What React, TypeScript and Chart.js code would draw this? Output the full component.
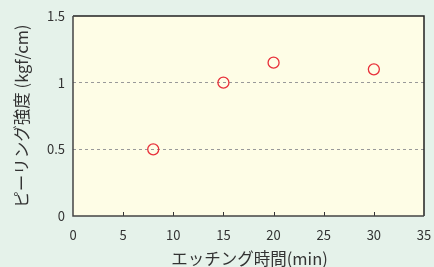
import React, { useEffect, useRef } from "react";
import { Chart, registerables } from "chart.js";

Chart.register(...registerables);

const etchTimes = [8, 15, 20, 30];
const peelStrength = [0.5, 1.0, 1.15, 1.1];
const xTicks = [0, 5, 10, 15, 20, 25, 30, 35];
const yTicks = [0, 0.5, 1, 1.5];
const xTitle = "エッチング時間(min)";
const yTitle = "ピーリング強度 (kgf/cm)";

const FONT = "'Noto Sans CJK JP', 'Noto Sans', sans-serif";

const framePlugin = {
  id: "frame",
  beforeDraw(chart: any) {
    const { ctx, chartArea } = chart;
    ctx.save();
    ctx.fillStyle = "#e5f2ea";
    ctx.fillRect(0, 0, chart.width, chart.height);
    ctx.fillStyle = "#fefde6";
    ctx.fillRect(chartArea.left, chartArea.top, chartArea.right - chartArea.left, chartArea.bottom - chartArea.top);
    ctx.restore();
  },
  afterDraw(chart: any) {
    const { ctx, chartArea } = chart;
    const { left, right, top, bottom } = chartArea;
    const xs = chart.scales.x;
    ctx.save();
    ctx.strokeStyle = "#333";
    ctx.lineWidth = 1;
    xTicks.forEach((v) => {
      if (v === xTicks[0] || v === xTicks[xTicks.length - 1]) return;
      const px = Math.round(xs.getPixelForValue(v)) + 0.5;
      ctx.beginPath();
      ctx.moveTo(px, bottom);
      ctx.lineTo(px, bottom - 4);
      ctx.stroke();
    });
    ctx.strokeStyle = "#222";
    ctx.lineWidth = 1.5;
    ctx.beginPath();
    ctx.moveTo(left, top);
    ctx.lineTo(right, top);
    ctx.lineTo(right, bottom);
    ctx.stroke();
    ctx.strokeStyle = "#444";
    ctx.beginPath();
    ctx.moveTo(left, top);
    ctx.lineTo(left, bottom);
    ctx.lineTo(right, bottom);
    ctx.stroke();
    ctx.fillStyle = "#333";
    ctx.font = `16.5px ${FONT}`;
    ctx.textAlign = "center";
    ctx.textBaseline = "middle";
    ctx.fillText(xTitle, (left + right) / 2 + 1, 259);
    ctx.translate(22, (top + bottom) / 2);
    ctx.rotate(-Math.PI / 2);
    ctx.fillText(yTitle, 0, 0);
    ctx.restore();
  },
};

export default function App() {
  const ref = useRef<HTMLCanvasElement | null>(null);
  useEffect(() => {
    document.body.style.margin = "0";
    const chart = new Chart(ref.current!, {
      type: "scatter",
      data: {
        datasets: [
          {
            data: etchTimes.map((x, i) => ({ x, y: peelStrength[i] })),
            pointStyle: "circle",
            pointRadius: 5.5,
            pointBorderColor: "#e8303a",
            pointBackgroundColor: "rgba(0,0,0,0)",
            pointBorderWidth: 1.3,
            showLine: false,
          },
        ],
      },
      options: {
        animation: false,
        responsive: false,
        layout: { padding: { top: 16, right: 10, left: 0, bottom: 0 } },
        plugins: { legend: { display: false }, tooltip: { enabled: false } },
        scales: {
          x: {
            type: "linear",
            min: 0,
            max: 35,
            afterBuildTicks: (s: any) => {
              s.ticks = xTicks.map((v) => ({ value: v }));
            },
            afterFit: (s: any) => {
              s.height = 51;
              s.paddingLeft = 0;
              s.paddingRight = 0;
            },
            grid: { display: false, drawTicks: false },
            border: { display: false },
            ticks: {
              color: "#333",
              font: { family: FONT, size: 13 },
              padding: 11,
              maxRotation: 0,
              callback: (v: any) => String(v),
            },
          },
          y: {
            type: "linear",
            min: 0,
            max: 1.5,
            afterBuildTicks: (s: any) => {
              s.ticks = yTicks.map((v) => ({ value: v }));
            },
            afterFit: (s: any) => {
              s.width = 73;
              s.paddingTop = 0;
              s.paddingBottom = 0;
            },
            grid: {
              drawTicks: false,
              color: (c: any) => (c.tick && (c.tick.value === 0.5 || c.tick.value === 1) ? "#999" : "rgba(0,0,0,0)"),
              lineWidth: 1,
            },
            border: { display: false, dash: [3, 3] },
            ticks: {
              color: "#333",
              font: { family: FONT, size: 13 },
              padding: 8,
              callback: (v: any) => String(v),
            },
          },
        },
      },
      plugins: [framePlugin],
    });
    return () => chart.destroy();
  }, []);
  return (
    <div style={{ position: "fixed", left: 0, top: 0, width: 434, height: 267 }}>
      <canvas ref={ref} width={434} height={267} style={{ width: 434, height: 267 }} />
    </div>
  );
}
